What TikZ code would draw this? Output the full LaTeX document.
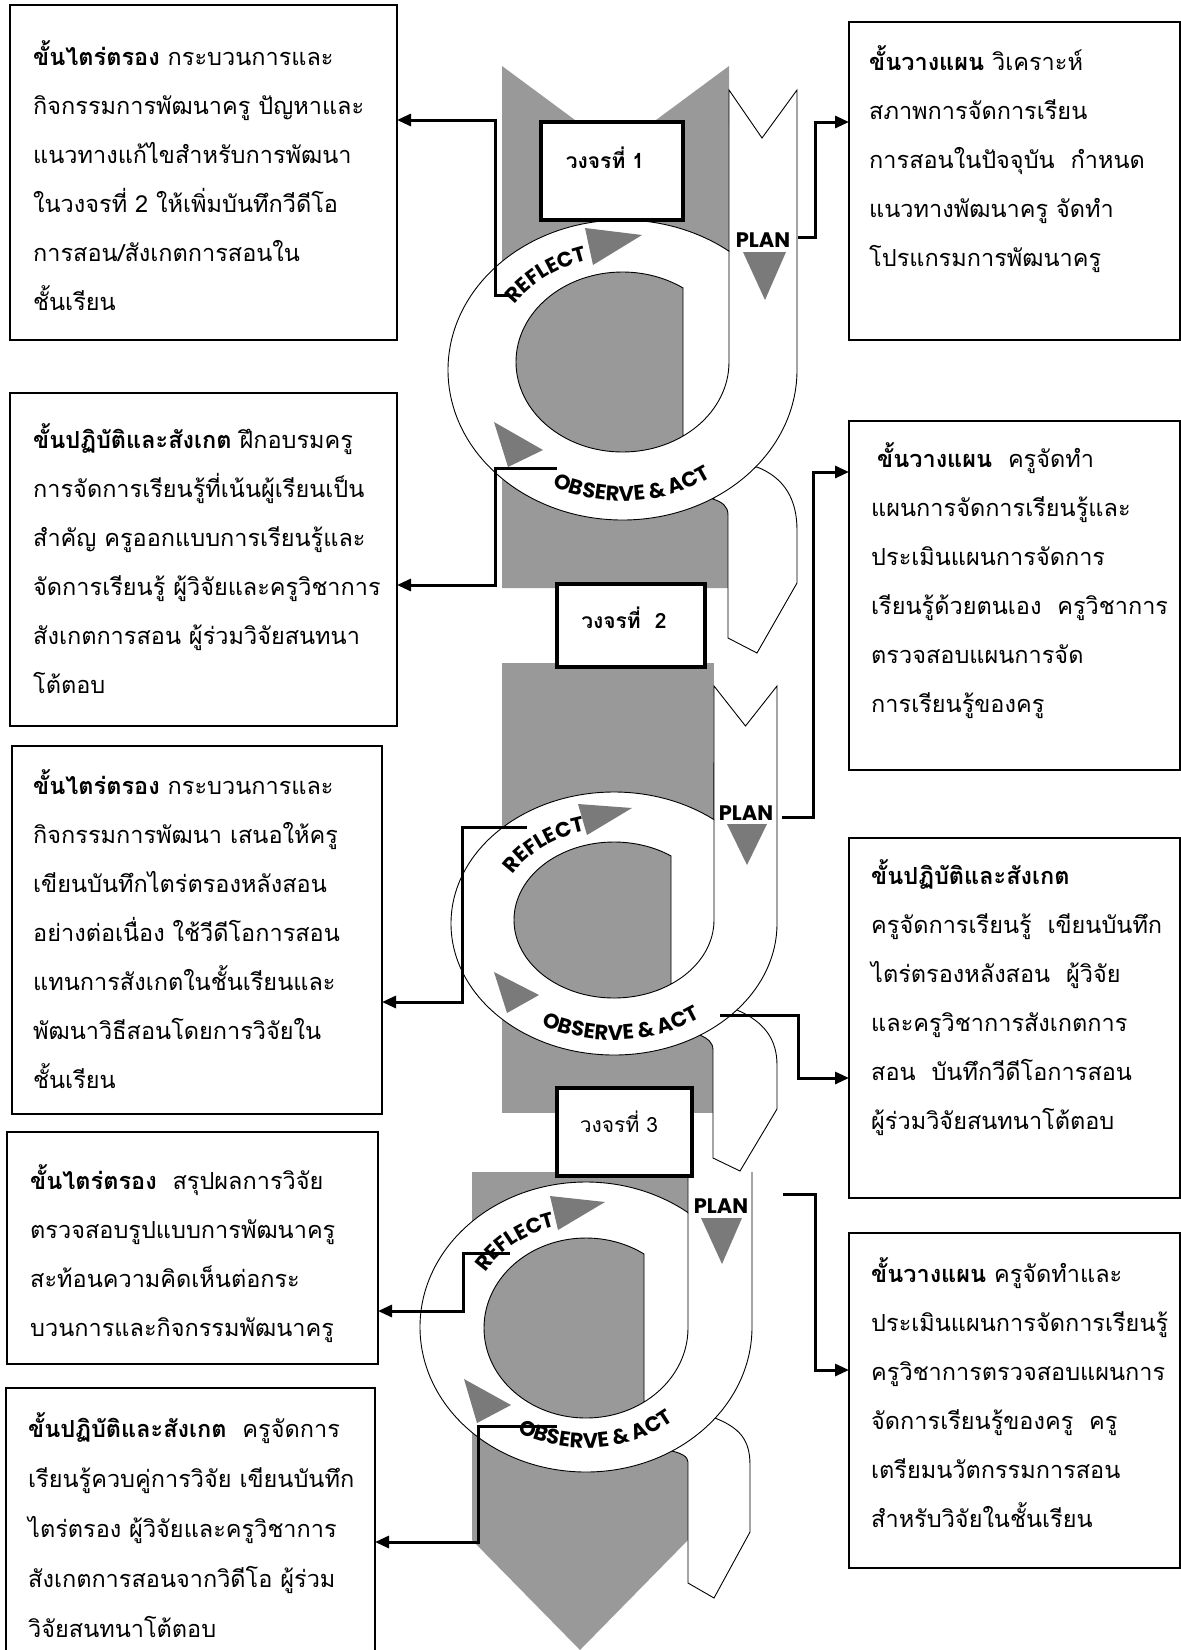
\documentclass[tikz,border=0pt]{standalone}
\usepackage{fontspec}
\usetikzlibrary{arrows.meta,decorations.text}
\newfontfamily\thai[Script=Thai]{Loma}
\newfontfamily\lbl{Poppins}
\definecolor{bandgray}{RGB}{153,153,153}
\definecolor{trigray}{RGB}{122,122,122}
\begin{document}
\begin{tikzpicture}[x=1pt,y=-1pt,
  sh/.style={fill=white,draw=black,line width=0.9pt},
  ln/.style={draw=black,line width=0.9pt},
  tri/.style={fill=trigray},
  cyc/.style={draw,line width=4.5pt,fill=white,inner sep=0pt,outer sep=0pt,anchor=north west},
  tbox/.style={draw,line width=2.5pt,fill=white,inner sep=0pt,outer sep=0pt,anchor=north west},
  body/.style={anchor=north west,inner sep=0pt,align=left,font=\thai\fontsize{23.5}{49}\selectfont},
  conn/.style={line width=3pt,-{Triangle[length=14pt,width=12pt]}},
  plan/.style={font=\lbl\bfseries\fontsize{21}{21}\selectfont,inner sep=0pt},
  cyctext/.style={font=\thai\bfseries\fontsize{21}{21}\selectfont,inner sep=0pt},
  curve/.style={decorate,decoration={text along path,text align=center,text={|\lbl\bfseries\fontsize{21}{21}\selectfont|#1}}}
]
\useasboundingbox (0,0) rectangle (1181,1650);
\fill[white] (0,0) rectangle (1181,1650);

% ---------- gray bands ----------
\fill[bandgray] (502,66) -- (615.5,150) -- (729,66) -- (729,588) -- (502,588) -- cycle;
\fill[bandgray] (502,663) rectangle (714,1113);
\fill[bandgray] (472,1172) -- (688,1172) -- (688,1540) -- (580,1650) -- (472,1540) -- cycle;

% ---------- tails ----------
\draw[sh] (757,467) .. controls (785,478) and (797,500) .. (797,530) -- (797,583) -- (757,653) -- (728,638) -- (728,515) .. controls (728,506) and (722,502) .. (713,499) -- (740,470) -- cycle;
\draw[sh] (737,1010) .. controls (765,1022) and (777,1040) .. (777,1065) -- (777,1109) -- (740,1171) -- (713,1158) -- (713,1050) .. controls (713,1042) and (707,1038) .. (700,1035) -- (720,1000) -- cycle;
\draw[sh] (715,1418) .. controls (740,1428) and (750,1440) .. (750,1465) -- (750,1532) -- (714,1598) -- (688,1583) -- (688,1462) .. controls (688,1456) and (680,1453) .. (672,1451) -- (700,1410) -- cycle;

% ---------- ring 1 ----------
\draw[sh] (797,90) -- (797,370) arc[start angle=0,end angle=307.6,x radius=174.5,y radius=150] -- (729,90) -- (762,138) -- cycle;
\fill[bandgray] (683,436.1) arc[start angle=55.4,end angle=304.6,x radius=106.5,y radius=90] -- cycle;
\draw[ln] (729,251) -- (729,362) arc[start angle=0,end angle=304.6,x radius=106.5,y radius=90] -- (683,436.1);

% ---------- ring 2 ----------
\draw[sh] (777,686) -- (777,923.5) arc[start angle=0,end angle=307.8,x radius=163,y radius=131.5] -- (714,686) -- (745.5,726) -- cycle;
\fill[bandgray] (671,984.1) arc[start angle=55.25,end angle=304.75,x radius=100,y radius=78] -- cycle;
\draw[ln] (714,819.6) -- (714,920) arc[start angle=0,end angle=304.75,x radius=100,y radius=78] -- (671,984.1);

% ---------- ring 3 ----------
\fill[white] (752,1172) -- (752,1327) arc[start angle=0,end angle=307.9,x radius=166,y radius=145] -- (688,1172) -- cycle;
\draw[ln] (752,1172) -- (752,1327) arc[start angle=0,end angle=307.9,x radius=166,y radius=145] -- (688,1172);
\fill[bandgray] (644,1402) arc[start angle=55.35,end angle=304.65,x radius=102,y radius=90] -- cycle;
\draw[ln] (688,1212.6) -- (688,1328) arc[start angle=0,end angle=304.65,x radius=102,y radius=90] -- (644,1402);

% ---------- triangles ----------
\fill[tri] (585,228) -- (642,235) -- (593,265) -- cycle;
\fill[tri] (743,252) -- (786,252) -- (765,300) -- cycle;
\fill[tri] (494,422) -- (543,450) -- (508,467) -- cycle;
\fill[tri] (578,804) -- (632,808) -- (587,835) -- cycle;
\fill[tri] (727,824) -- (767,824) -- (747,865) -- cycle;
\fill[tri] (494,972) -- (539,995) -- (507,1013) -- cycle;
\fill[tri] (550,1196) -- (605,1202) -- (558,1230) -- cycle;
\fill[tri] (701,1218) -- (742,1218) -- (722,1264) -- cycle;
\fill[tri] (464,1379) -- (511,1405) -- (477,1423) -- cycle;

% ---------- ring labels ----------
\node[plan] (plan1) at (763,240) {PLAN};
\node[plan] (plan2) at (746,813) {PLAN};
\node[plan] (plan3) at (721,1206) {PLAN};
\path[curve=REFLECT] ([shift={(205:131 and 112)}]622.5,368) arc[start angle=205,end angle=263,x radius=131,y radius=112];
\path[curve={OBSERVE {\&} ACT}] ([shift={(145.7:154 and 133)}]622.5,368) arc[start angle=145.7,end angle=25.7,x radius=154,y radius=133];
\path[curve=REFLECT] ([shift={(203.5:117 and 93)}]614,921) arc[start angle=203.5,end angle=261.5,x radius=117,y radius=93];
\path[curve={OBSERVE {\&} ACT}] ([shift={(146.5:149 and 119)}]614,921) arc[start angle=146.5,end angle=26.5,x radius=149,y radius=119];
\path[curve=REFLECT] ([shift={(204:118 and 104)}]586,1327) arc[start angle=204,end angle=262,x radius=118,y radius=104];
\path[curve={OBSERVE {\&} ACT}] ([shift={(145:138 and 121)}]586,1327) arc[start angle=145,end angle=25,x radius=138,y radius=121];

% ---------- cycle boxes ----------
\node[cyc,minimum width=142,minimum height=98] (C1) at (541,122) {};
\node[cyctext] (C1t) at (605,158) {วงจรที่ 1};
\node[cyc,minimum width=148,minimum height=83] (C2) at (557,584) {};
\node[cyctext] (C2t) at (624,618) {วงจรที่~~2};
\node[cyc,minimum width=135,minimum height=88] (C3) at (557,1088) {};
\node[cyctext,font=\thai\fontsize{21}{21}\selectfont] (C3t) at (619,1122) {วงจรที่ 3};

% ---------- text boxes ----------
\node[tbox,minimum width=387,minimum height=335] (L1) at (10,5) {};
\node[body] (L1t) at (33,40) {\rule{0pt}{23pt}\textbf{ขั้นไตร่ตรอง} กระบวนการและ\\กิจกรรมการพัฒนาครู ปัญหาและ\\แนวทางแก้ไขสำหรับการพัฒนา\\ในวงจรที่ 2 ให้เพิ่มบันทึกวีดีโอ\\การสอน/สังเกตการสอนใน\\ชั้นเรียน};

\node[tbox,minimum width=331,minimum height=318] (R1) at (849,22) {};
\node[body] (R1t) at (869,45) {\rule{0pt}{23pt}\textbf{ขั้นวางแผน} วิเคราะห์\\สภาพการจัดการเรียน\\การสอนในปัจจุบัน~~กำหนด\\แนวทางพัฒนาครู จัดทำ\\โปรแกรมการพัฒนาครู};

\node[tbox,minimum width=387,minimum height=333] (L2) at (10,393) {};
\node[body] (L2t) at (33,423) {\rule{0pt}{23pt}\textbf{ขั้นปฏิบัติและสังเกต} ฝึกอบรมครู\\การจัดการเรียนรู้ที่เน้นผู้เรียนเป็น\\สำคัญ ครูออกแบบการเรียนรู้และ\\จัดการเรียนรู้ ผู้วิจัยและครูวิชาการ\\สังเกตการสอน ผู้ร่วมวิจัยสนทนา\\โต้ตอบ};

\node[tbox,minimum width=331,minimum height=349] (R2) at (849,421) {};
\node[body] (R2t) at (871,442) {\rule{0pt}{23pt}\hspace*{6pt}\textbf{ขั้นวางแผน}~~ครูจัดทำ\\แผนการจัดการเรียนรู้และ\\ประเมินแผนการจัดการ\\เรียนรู้ด้วยตนเอง~~ครูวิชาการ\\ตรวจสอบแผนการจัด\\การเรียนรู้ของครู};

\node[tbox,minimum width=370,minimum height=368] (L3) at (12,746) {};
\node[body] (L3t) at (33,769) {\rule{0pt}{23pt}\textbf{ขั้นไตร่ตรอง} กระบวนการและ\\กิจกรรมการพัฒนา เสนอให้ครู\\เขียนบันทึกไตร่ตรองหลังสอน\\อย่างต่อเนื่อง ใช้วีดีโอการสอน\\แทนการสังเกตในชั้นเรียนและ\\พัฒนาวิธีสอนโดยการวิจัยใน\\ชั้นเรียน};

\node[tbox,minimum width=331,minimum height=360] (R3) at (849,838) {};
\node[body] (R3t) at (871,859) {\rule{0pt}{23pt}\textbf{ขั้นปฏิบัติและสังเกต}\\ครูจัดการเรียนรู้~~เขียนบันทึก\\ไตร่ตรองหลังสอน~~ผู้วิจัย\\และครูวิชาการสังเกตการ\\สอน~~บันทึกวีดีโอการสอน\\ผู้ร่วมวิจัยสนทนาโต้ตอบ};

\node[tbox,minimum width=371,minimum height=232] (L4) at (7,1132) {};
\node[body] (L4t) at (30,1164) {\rule{0pt}{23pt}\textbf{ขั้นไตร่ตรอง}~~สรุปผลการวิจัย\\ตรวจสอบรูปแบบการพัฒนาครู\\สะท้อนความคิดเห็นต่อกระ\\บวนการและกิจกรรมพัฒนาครู};

\node[tbox,minimum width=331,minimum height=335] (R4) at (849,1233) {};
\node[body] (R4t) at (871,1257) {\rule{0pt}{23pt}\textbf{ขั้นวางแผน} ครูจัดทำและ\\ประเมินแผนการจัดการเรียนรู้\\ครูวิชาการตรวจสอบแผนการ\\จัดการเรียนรู้ของครู~~ครู\\เตรียมนวัตกรรมการสอน\\สำหรับวิจัยในชั้นเรียน};

\node[tbox,minimum width=369,minimum height=280] (L5) at (6,1388) {};
\node[body,font=\thai\fontsize{23.5}{50}\selectfont] (L5t) at (28,1412) {\rule{0pt}{23pt}\textbf{ขั้นปฏิบัติและสังเกต}~~ครูจัดการ\\เรียนรู้ควบคู่การวิจัย เขียนบันทึก\\ไตร่ตรอง ผู้วิจัยและครูวิชาการ\\สังเกตการสอนจากวิดีโอ ผู้ร่วม\\วิจัยสนทนาโต้ตอบ};

% ---------- connectors ----------
\coordinate (r1s) at (510,295);  \coordinate (k1) at (495,120);
\coordinate (p1s) at (798,237);  \coordinate (k2) at (815,122);
\coordinate (o1s) at (557,468);  \coordinate (k3) at (495,585);
\coordinate (p2s) at (782,817);  \coordinate (k4) at (813,472);
\coordinate (r2s) at (527,827);  \coordinate (k5) at (462,1002);
\coordinate (o2s) at (720,1015); \coordinate (k6) at (798,1078);
\coordinate (p3s) at (783,1194); \coordinate (k7) at (815,1370);
\coordinate (r3s) at (510,1253); \coordinate (k8) at (463,1311);
\coordinate (o3s) at (557,1426); \coordinate (k9) at (478,1542);

\draw[conn] (r1s) -| (k1) -- (k1 -| L1.east);
\draw[conn] (p1s) -| (k2) -- (k2 -| R1.west);
\draw[conn] (o1s) -| (k3) -- (k3 -| L2.east);
\draw[conn] (p2s) -| (k4) -- (k4 -| R2.west);
\draw[conn] (r2s) -| (k5) -- (k5 -| L3.east);
\draw[conn] (o2s) -| (k6) -- (k6 -| R3.west);
\draw[conn] (p3s) -| (k7) -- (k7 -| R4.west);
\draw[conn] (r3s) -| (k8) -- (k8 -| L4.east);
\draw[conn] (o3s) -| (k9) -- (k9 -| L5.east);
\end{tikzpicture}
\end{document}
